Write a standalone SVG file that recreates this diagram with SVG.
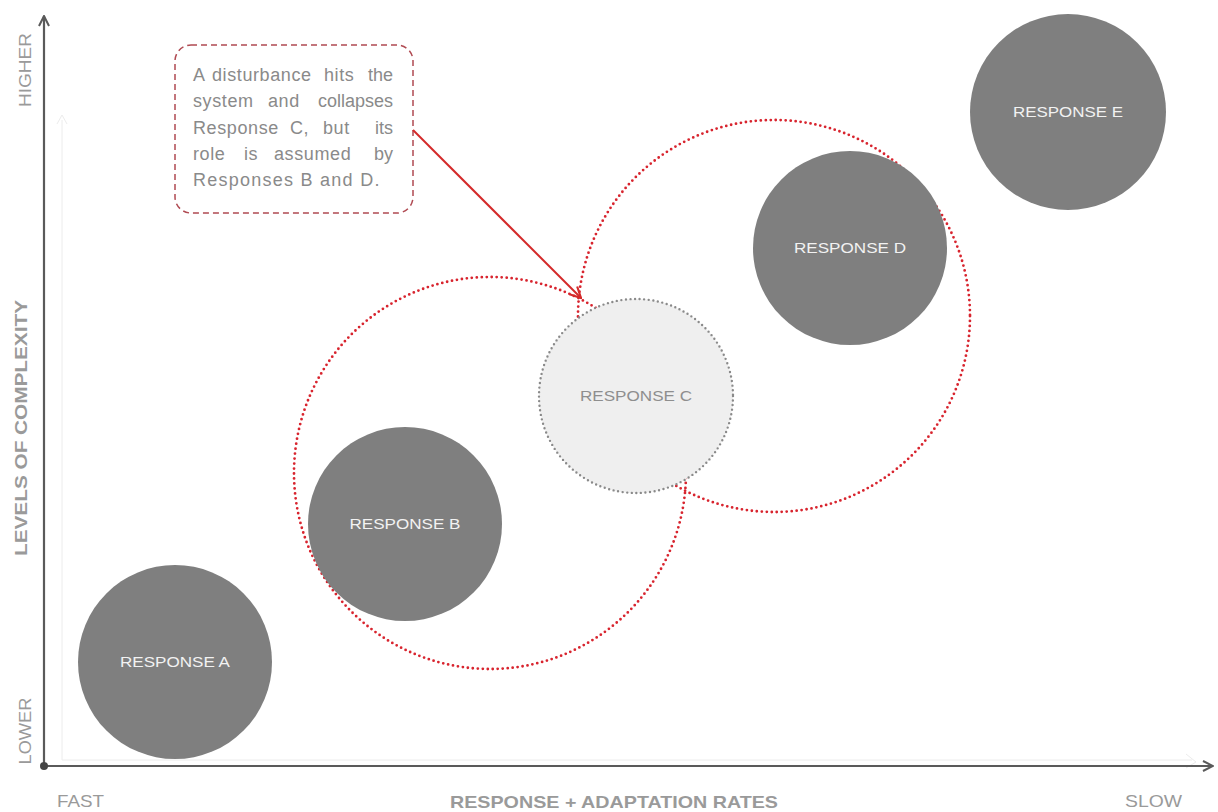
<svg xmlns="http://www.w3.org/2000/svg" width="1218" height="812" viewBox="0 0 1218 812">
  <style>
    .axis { stroke: #5a5a5a; stroke-width: 2.2; fill: none; }
    .ghost { stroke: #ececec; stroke-width: 1; fill: none; }
    .axis-label { font-family: "Liberation Sans Narrow", "Liberation Sans", Arial, sans-serif; font-size: 17px; fill: #9a9a9a; }
    .axis-title { font-family: "Liberation Sans Narrow", "Liberation Sans", Arial, sans-serif; font-size: 17px; font-weight: bold; fill: #9a9a9a; }
    .solid { fill: #7f7f7f; }
    .solid-label { font-family: "Liberation Sans Narrow", "Liberation Sans", Arial, sans-serif; font-size: 15px; fill: #f2f2f2; text-anchor: middle; }
    .lost { fill: #efefef; stroke: #8a8a8a; stroke-width: 2.4; stroke-dasharray: 0 4.6; stroke-linecap: round; }
    .lost-label { font-family: "Liberation Sans Narrow", "Liberation Sans", Arial, sans-serif; font-size: 15px; fill: #8e8e8e; text-anchor: middle; }
    .reach { fill: none; stroke: #d8242e; stroke-width: 2.8; stroke-dasharray: 0 5; stroke-linecap: round; }
    .note-box { fill: #ffffff; stroke: #b04a52; stroke-width: 1.5; stroke-dasharray: 6 4; }
    .note-text { font-family: "Liberation Sans Narrow", "Liberation Sans", Arial, sans-serif; font-size: 18px; letter-spacing: 0.6px; fill: #8a8a8a; }
    .end { text-anchor: end; letter-spacing: 0; }
    .pointer { stroke: #d42a2a; stroke-width: 2; fill: none; }
  </style>
  <defs>
    <marker id="open-head" viewBox="0 0 12 12" refX="11" refY="6" markerWidth="12" markerHeight="12" markerUnits="userSpaceOnUse" orient="auto">
      <path d="M1,1 L11,6 L1,11" fill="none" stroke="#5a5a5a" stroke-width="2"/>
    </marker>
    <marker id="red-head" viewBox="0 0 12 12" refX="11" refY="6" markerWidth="13" markerHeight="13" markerUnits="userSpaceOnUse" orient="auto">
      <path d="M1,1 L11,6 L1,11" fill="none" stroke="#d42a2a" stroke-width="2"/>
    </marker>
  </defs>

  <rect width="1218" height="812" fill="#ffffff"/>

  <!-- faint inner frame -->
  <g id="inner-frame">
    <path class="ghost" d="M62,760 L62,120 M57,124 L62,115 L67,124"/>
    <path class="ghost" d="M62,760 L1192,760 M1186,754 L1196,762 L1186,768"/>
  </g>

  <!-- axes -->
  <g id="axes">
    <line class="axis" x1="44" y1="766" x2="44" y2="16" marker-end="url(#open-head)"/>
    <line class="axis" x1="44" y1="766" x2="1213" y2="766" marker-end="url(#open-head)"/>
    <circle cx="44" cy="766" r="4" fill="#444"/>
    <text class="axis-label" transform="translate(31,70) rotate(-90)" text-anchor="middle" textLength="74" lengthAdjust="spacingAndGlyphs">HIGHER</text>
    <text class="axis-label" transform="translate(31,731) rotate(-90)" text-anchor="middle" textLength="67" lengthAdjust="spacingAndGlyphs">LOWER</text>
    <text class="axis-title" transform="translate(27,428) rotate(-90)" text-anchor="middle" textLength="256" lengthAdjust="spacingAndGlyphs">LEVELS OF COMPLEXITY</text>
    <text class="axis-label" x="57" y="807" textLength="47" lengthAdjust="spacingAndGlyphs">FAST</text>
    <text class="axis-label" x="1125" y="807" textLength="57" lengthAdjust="spacingAndGlyphs">SLOW</text>
    <text class="axis-title" x="450" y="808" textLength="328" lengthAdjust="spacingAndGlyphs">RESPONSE + ADAPTATION RATES</text>
  </g>

  <!-- reach of the surviving responses -->
  <g id="reach-b">
    <circle class="reach" cx="490" cy="473" r="196"/>
  </g>
  <g id="reach-d">
    <circle class="reach" cx="774" cy="316" r="196"/>
  </g>

  <g id="response-a">
    <circle class="solid" cx="175" cy="662" r="97"/>
    <text class="solid-label" x="175" y="667" textLength="110" lengthAdjust="spacingAndGlyphs">RESPONSE A</text>
  </g>
  <g id="response-b">
    <circle class="solid" cx="405" cy="524" r="97"/>
    <text class="solid-label" x="405" y="529" textLength="111" lengthAdjust="spacingAndGlyphs">RESPONSE B</text>
  </g>
  <g id="response-c">
    <circle class="lost" cx="636" cy="396" r="97"/>
    <text class="lost-label" x="636" y="401" textLength="112" lengthAdjust="spacingAndGlyphs">RESPONSE C</text>
  </g>
  <g id="response-d">
    <circle class="solid" cx="850" cy="248" r="97"/>
    <text class="solid-label" x="850" y="253" textLength="112" lengthAdjust="spacingAndGlyphs">RESPONSE D</text>
  </g>
  <g id="response-e">
    <circle class="solid" cx="1068" cy="112" r="98"/>
    <text class="solid-label" x="1068" y="117" textLength="110" lengthAdjust="spacingAndGlyphs">RESPONSE E</text>
  </g>

  <!-- disturbance note, justified word by word -->
  <g id="note">
    <rect class="note-box" x="175" y="45" width="238" height="168" rx="16" ry="16"/>
    <text class="note-text" x="193" y="81">A</text>
    <text class="note-text" x="212" y="81">disturbance</text>
    <text class="note-text" x="324" y="81">hits</text>
    <text class="note-text end" x="393" y="81">the</text>

    <text class="note-text" x="193" y="107">system</text>
    <text class="note-text" x="268" y="107">and</text>
    <text class="note-text end" x="393" y="107">collapses</text>

    <text class="note-text" x="193" y="134">Response</text>
    <text class="note-text" x="290" y="134">C,</text>
    <text class="note-text" x="323" y="134">but</text>
    <text class="note-text end" x="393" y="134">its</text>

    <text class="note-text" x="193" y="160">role</text>
    <text class="note-text" x="244" y="160">is</text>
    <text class="note-text" x="274" y="160">assumed</text>
    <text class="note-text end" x="393" y="160">by</text>

    <text class="note-text" x="193" y="186" textLength="187" lengthAdjust="spacing">Responses B and D.</text>
  </g>

  <g id="connectors">
    <line class="pointer" x1="413" y1="130" x2="581" y2="298" marker-end="url(#red-head)"/>
  </g>
</svg>
